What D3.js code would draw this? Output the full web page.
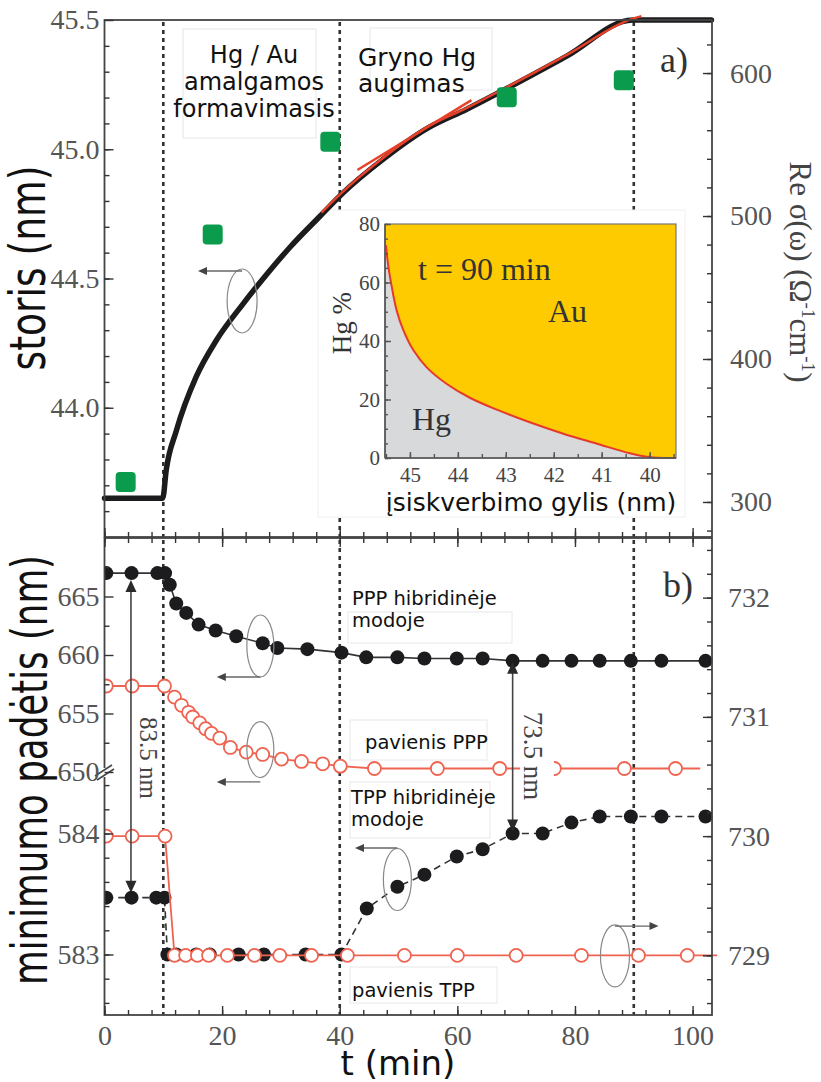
<!DOCTYPE html>
<html>
<head>
<meta charset="utf-8">
<script src="https://cdn.jsdelivr.net/npm/d3@7"></script>
<style>
  body { margin: 0; background: #fff; }
  svg { display: block; }
</style>
</head>
<body>
<svg id="chart" width="821" height="1082"></svg>
<script>
// ---------- a) storis ir laidumas ----------
var storisT = [0, 5, 9.9, 10.5, 12.2, 15.6, 19.0, 23.5, 27.0, 31.5, 36.6, 40.5, 47.3, 54.8, 61.6, 68.4, 78.6, 89.8, 95, 103.2];
var storisV = [43.65, 43.65, 43.65, 43.76, 43.91, 44.12, 44.26, 44.40, 44.50, 44.62, 44.74, 44.83, 44.96, 45.08, 45.155, 45.235, 45.36, 45.50, 45.50, 45.50];
var fitT = [36.9, 40.5, 47.3, 54.8, 61.6, 68.4, 78.6, 89.8, 91.3];
var fitV = [44.755, 44.835, 44.965, 45.085, 45.16, 45.24, 45.365, 45.505, 45.515];
var tangentT = [43.0, 62.4];
var tangentV = [44.92, 45.19];
var sigmaT = [3.6, 18.4, 38.4, 68.4, 88.3];
var sigmaV = [314, 487, 552, 583, 595];
var stageT = [10, 40, 90];

// inset: Hg % pagal gylį
var depthNm = [45.50, 45.45, 45.38, 45.28, 45.14, 44.93, 44.65, 44.23, 43.75, 43.20, 42.50, 41.80, 41.10, 40.41, 40.06, 39.72, 39.45];
var hgPct   = [72.8, 65.4, 58.6, 50.6, 43.8, 36.9, 31.0, 25.3, 20.6, 16.6, 12.2, 8.3, 4.9, 1.6, 0.4, 0, 0];

// ---------- b) minimumo padėtis ----------
var pppHybT = [0.3, 4.6, 9.0, 10.3, 11.1, 12.2, 13.9, 16.0, 18.9, 22.4, 26.9, 29.4, 34.5, 40.3, 44.5, 49.8, 54.4, 59.9, 64.3, 69.4, 74.5, 79.4, 84.2, 89.5, 94.7, 102.2];
var pppHybV = [667.0, 667.0, 667.0, 667.0, 666.0, 664.4, 663.6, 662.6, 662.1, 661.6, 661.0, 660.6, 660.5, 660.2, 659.8, 659.8, 659.7, 659.7, 659.7, 659.5, 659.5, 659.5, 659.5, 659.5, 659.5, 659.5];
var pppT = [0.3, 4.7, 10.2, 11.9, 13.1, 14.3, 15.0, 16.2, 17.2, 18.2, 19.6, 21.4, 24.1, 26.9, 30.1, 33.5, 37.1, 40.1, 45.9, 56.6, 67.2, 76.5, 88.4, 97.1];
var pppV = [657.35, 657.35, 657.35, 656.4, 655.7, 655.1, 654.7, 654.2, 653.7, 653.3, 652.9, 652.1, 651.7, 651.5, 651.1, 650.9, 650.7, 650.5, 650.3, 650.3, 650.3, 650.3, 650.3, 650.3];
var pppLineEnd = 101.3;
var tppHybT = [0.3, 4.6, 8.8, 10.2, 10.7, 12.2, 15.6, 17.9, 22.8, 27.1, 34.2, 40.3, 44.6, 49.8, 54.4, 59.9, 64.3, 69.4, 74.5, 79.4, 84.2, 89.5, 94.7, 102.2];
var tppHybV = [583.47, 583.47, 583.47, 583.47, 583.0, 583.0, 583.0, 583.0, 583.0, 583.0, 583.0, 583.0, 583.38, 583.56, 583.66, 583.81, 583.87, 584.0, 584.0, 584.09, 584.14, 584.14, 584.14, 584.14];
var tppT = [0.3, 4.7, 10.3, 11.9, 13.8, 15.8, 17.7, 20.9, 25.5, 29.8, 35.2, 41.3, 51.0, 60.0, 70.0, 81.1, 90.8, 99.1];
var tppV = [730, 730, 730, 729, 729, 729, 729, 729, 729, 729, 729, 729, 729, 729, 729, 729, 729, 729];
var tppLineEnd = 104.2;

// tick labels
var tTicks = [0, 20, 40, 60, 80, 100];
var storisTicks = [44.0, 44.5, 45.0, 45.5];
var sigmaTicks = [300, 400, 500, 600];
var upperTicks = [650, 655, 660, 665];
var lowerTicks = [583, 584];
var rightBTicks = [729, 730, 731, 732];
var insetXTicks = [45, 44, 43, 42, 41, 40];
var insetYTicks = [0, 20, 40, 60, 80];

var SERIF = "'Liberation Serif', 'Times New Roman', serif";
var SANS = "'DejaVu Sans', Verdana, sans-serif";
var ORANGE = "#ef6351";

var svg = d3.select("#chart");

var x = d3.scaleLinear().domain([0, 103.3]).range([104.5, 712]);
var yA = d3.scaleLinear().domain([43.5, 45.5]).range([537, 20]);
var yA2 = d3.scaleLinear().domain([275.5, 637.1]).range([537, 20]);
var yBu = d3.scaleLinear().domain([650, 670]).range([772, 538]);
var yBl = d3.scaleLinear().domain([582.5, 584.5]).range([1015, 773]);
var yBr = d3.scaleLinear().domain([728.5, 732.5]).range([1015, 538]);
var xi = d3.scaleLinear().domain([45.52, 39.45]).range([385, 676]);
var yi = d3.scaleLinear().domain([0, 80]).range([458, 224]);

function steps(a, b, s) {
  var out = [];
  for (var v = a; v <= b + 1e-9; v += s) out.push(+v.toFixed(3));
  return out;
}

function addAxis(mk, scale, tx, ty, majors, minors, fmt, opt) {
  opt = opt || {};
  var gMin = svg.append("g").attr("transform", "translate(" + tx + "," + ty + ")")
    .call(mk(scale).tickValues(minors).tickSize(-(opt.minor || 5)).tickFormat(""));
  var gMaj = svg.append("g").attr("transform", "translate(" + tx + "," + ty + ")")
    .call(mk(scale).tickValues(majors).tickSize(-(opt.major || 9)).tickPadding(opt.pad || 6)
      .tickFormat(fmt || ""));
  [gMin, gMaj].forEach(function(g) {
    g.select(".domain").remove();
    g.selectAll(".tick line").attr("stroke", opt.tickColor || "#333").attr("stroke-width", 1.4);
  });
  gMaj.selectAll(".tick text")
    .attr("font-family", SERIF)
    .attr("font-size", opt.fs || 28)
    .attr("fill", opt.color || "#555");
  return gMaj;
}

// ================= PANEL a =================
var pa = svg.append("g");

// stage lines
pa.selectAll("line.stage").data(stageT).enter().append("line")
  .attr("x1", d => x(d)).attr("x2", d => x(d))
  .attr("y1", yA(45.5) + 2).attr("y2", yA(43.5))
  .attr("stroke", "#333").attr("stroke-width", 2.6).attr("stroke-dasharray", "4,4");

// annotation boxes
pa.append("rect").attr("x", 183).attr("y", 29).attr("width", 133).attr("height", 109)
  .attr("fill", "#fff").attr("stroke", "#e6e6e6");
pa.append("rect").attr("x", 370).attr("y", 28).attr("width", 122).attr("height", 62)
  .attr("fill", "#fff").attr("stroke", "#e6e6e6");

// inset background
pa.append("rect").attr("x", 318).attr("y", 210).attr("width", 367).attr("height", 307)
  .attr("fill", "#fff").attr("stroke", "#f0f0f0");

// storis curve
var storis = storisT.map((t, i) => [t, storisV[i]]);
pa.append("path").datum(storis)
  .attr("d", d3.line().x(d => x(d[0])).y(d => yA(d[1])).curve(d3.curveMonotoneX))
  .attr("fill", "none").attr("stroke", "#1c1c1f").attr("stroke-width", 5.5)
  .attr("stroke-linecap", "round");

// red fits
var fit = fitT.map((t, i) => [t, fitV[i]]);
pa.append("path").datum(fit)
  .attr("d", d3.line().x(d => x(d[0])).y(d => yA(d[1])).curve(d3.curveMonotoneX))
  .attr("fill", "none").attr("stroke", "#e8412a").attr("stroke-width", 2.4);
var tang = tangentT.map((t, i) => [t, tangentV[i]]);
pa.append("path").datum(tang)
  .attr("d", d3.line().x(d => x(d[0])).y(d => yA(d[1])))
  .attr("fill", "none").attr("stroke", "#e8412a").attr("stroke-width", 2.4);

// green squares (right axis)
pa.selectAll("rect.sig").data(sigmaT.map((t, i) => [t, sigmaV[i]])).enter().append("rect")
  .attr("x", d => x(d[0]) - 10).attr("y", d => yA2(d[1]) - 10)
  .attr("width", 20).attr("height", 20).attr("rx", 4)
  .attr("fill", "#0b9b4c");

// ---- inset ----
var inset = pa.append("g");
inset.append("rect").attr("x", xi(45.52)).attr("y", yi(80))
  .attr("width", xi(39.45) - xi(45.52)).attr("height", yi(0) - yi(80))
  .attr("fill", "#fecb00");
var hg = depthNm.map((d, i) => [d, hgPct[i]]);
inset.append("path").datum(hg)
  .attr("d", d3.area().x(d => xi(d[0])).y0(yi(0)).y1(d => yi(d[1])).curve(d3.curveCatmullRom))
  .attr("fill", "#d8d9da");
inset.append("path").datum(hg)
  .attr("d", d3.line().x(d => xi(d[0])).y(d => yi(d[1])).curve(d3.curveCatmullRom))
  .attr("fill", "none").attr("stroke", "#e5392a").attr("stroke-width", 2);
inset.append("rect").attr("x", xi(45.52)).attr("y", yi(80))
  .attr("width", xi(39.45) - xi(45.52)).attr("height", yi(0) - yi(80))
  .attr("fill", "none").attr("stroke", "#777").attr("stroke-width", 1.2);
inset.append("line").attr("x1", xi(45.52)).attr("x2", xi(45.52)).attr("y1", yi(80)).attr("y2", yi(0))
  .attr("stroke", "#555").attr("stroke-width", 1.6);
inset.append("line").attr("x1", xi(45.52)).attr("x2", xi(39.45)).attr("y1", yi(0)).attr("y2", yi(0))
  .attr("stroke", "#555").attr("stroke-width", 1.6);

addAxis(d3.axisBottom, xi, 0, yi(0), insetXTicks, steps(39.5, 45.5, 0.5), d3.format("d"),
  {major: 6, minor: 4, pad: 9, fs: 21, color: "#444", tickColor: "#555"});
addAxis(d3.axisLeft, yi, xi(45.52), 0, insetYTicks, steps(0, 80, 5), d3.format("d"),
  {major: 6, minor: 3, pad: 5, fs: 21, color: "#444", tickColor: "#555"});

inset.append("text").attr("x", 418).attr("y", 280).text("t = 90 min")
  .attr("font-family", SERIF).attr("font-size", 32).attr("fill", "#333");
inset.append("text").attr("x", 548).attr("y", 322).text("Au")
  .attr("font-family", SERIF).attr("font-size", 32).attr("fill", "#333");
inset.append("text").attr("x", 412).attr("y", 430).text("Hg")
  .attr("font-family", SERIF).attr("font-size", 32).attr("fill", "#333");
inset.append("text").attr("transform", "translate(351,323) rotate(-90)")
  .attr("text-anchor", "middle").text("Hg %")
  .attr("font-family", SERIF).attr("font-size", 27).attr("fill", "#333");
inset.append("text").attr("x", 531).attr("y", 511).attr("text-anchor", "middle")
  .text("įsiskverbimo gylis (nm)")
  .attr("font-family", SANS).attr("font-size", 25).attr("fill", "#111");

// loop + arrow annotation
function loop(g, cx, cy, rx, ry, ay, tipX) {
  g.append("ellipse").attr("cx", cx).attr("cy", cy).attr("rx", rx).attr("ry", ry)
    .attr("fill", "none").attr("stroke", "#888").attr("stroke-width", 1.2);
  var dir = tipX < cx ? 1 : -1;
  g.append("line").attr("x1", cx).attr("x2", tipX + dir * 7).attr("y1", ay).attr("y2", ay)
    .attr("stroke", "#666").attr("stroke-width", 1.3);
  g.append("path")
    .attr("d", "M" + tipX + "," + ay + "L" + (tipX + dir * 9) + "," + (ay - 4) +
      "L" + (tipX + dir * 9) + "," + (ay + 4) + "Z")
    .attr("fill", "#444");
}
loop(pa, x(23.4), yA(44.413), 15, 32, yA(44.529), x(15.9));

// frame a
pa.append("rect").attr("x", 104.5).attr("y", 20).attr("width", 607.5).attr("height", 517)
  .attr("fill", "none").attr("stroke", "#444").attr("stroke-width", 1.8);

addAxis(d3.axisLeft, yA, 104.5, 0, storisTicks, steps(43.6, 45.4, 0.1), d3.format(".1f"), {pad: 5});
addAxis(d3.axisRight, yA2, 712, 0, sigmaTicks, steps(280, 620, 20), d3.format("d"), {pad: 18});
addAxis(d3.axisBottom, x, 0, 537, tTicks, steps(0, 100, 4), null, {});

// texts a
var tA = pa.append("g").attr("font-family", SANS).attr("fill", "#111");
tA.append("text").attr("x", 254).attr("y", 63).attr("text-anchor", "middle").attr("font-size", 24).text("Hg / Au");
tA.append("text").attr("x", 254).attr("y", 90).attr("text-anchor", "middle").attr("font-size", 24).text("amalgamos");
tA.append("text").attr("x", 254).attr("y", 117).attr("text-anchor", "middle").attr("font-size", 24).text("formavimasis");
tA.append("text").attr("x", 358).attr("y", 66).attr("font-size", 25).text("Gryno Hg");
tA.append("text").attr("x", 358).attr("y", 92).attr("font-size", 25).text("augimas");
pa.append("text").attr("x", 660).attr("y", 72).text("a)")
  .attr("font-family", SERIF).attr("font-size", 36).attr("fill", "#333");

// ================= PANEL b =================
var pb = svg.append("g");
svg.append("clipPath").attr("id", "clipB").append("rect")
  .attr("x", 104.5).attr("y", 538).attr("width", 616).attr("height", 477);

pb.selectAll("line.stage").data(stageT).enter().append("line")
  .attr("x1", d => x(d)).attr("x2", d => x(d))
  .attr("y1", 540).attr("y2", 1015)
  .attr("stroke", "#333").attr("stroke-width", 2.6).attr("stroke-dasharray", "4,4");

// label boxes
[[348, 612, 164, 31], [350, 720, 137, 40], [350, 782, 140, 56], [350, 967, 147, 36]].forEach(function(b) {
  pb.append("rect").attr("x", b[0]).attr("y", b[1]).attr("width", b[2]).attr("height", b[3])
    .attr("fill", "#fff").attr("stroke", "#e8e8e8");
});

var series = pb.append("g").attr("clip-path", "url(#clipB)");

function plotSeries(ts, vs, ys, opts) {
  var pts = ts.map((t, i) => [t, vs[i]]);
  var linePts = opts.lineEnd ? pts.concat([[opts.lineEnd, vs[vs.length - 1]]]) : pts;
  series.append("path").datum(linePts)
    .attr("d", d3.line().x(d => x(d[0])).y(d => ys(d[1])))
    .attr("fill", "none").attr("stroke", opts.lineColor).attr("stroke-width", opts.lw || 1.6)
    .attr("stroke-dasharray", opts.dash || null);
  series.selectAll(null).data(pts).enter().append("circle")
    .attr("cx", d => x(d[0])).attr("cy", d => ys(d[1]))
    .attr("r", opts.r)
    .attr("fill", opts.fill).attr("stroke", opts.stroke).attr("stroke-width", opts.sw || 0);
}

plotSeries(tppHybT, tppHybV, yBl, {lineColor: "#333", dash: "7,5", r: 7, fill: "#1c1c1f", stroke: "none"});
plotSeries(pppHybT, pppHybV, yBu, {lineColor: "#333", r: 7, fill: "#1c1c1f", stroke: "none"});
plotSeries(tppT, tppV, yBr, {lineColor: ORANGE, lw: 1.8, r: 6.5, fill: "#fff", stroke: ORANGE, sw: 1.8, lineEnd: tppLineEnd});
plotSeries(pppT, pppV, yBu, {lineColor: ORANGE, lw: 1.8, r: 6.5, fill: "#fff", stroke: ORANGE, sw: 1.8, lineEnd: pppLineEnd});

// double arrows
function dblArrow(px, y1, y2) {
  pb.append("line").attr("x1", px).attr("x2", px).attr("y1", y1 + 8).attr("y2", y2 - 8)
    .attr("stroke", "#444").attr("stroke-width", 1.6);
  pb.append("path").attr("d", "M" + px + "," + y1 + "L" + (px - 5.5) + "," + (y1 + 12) + "L" + (px + 5.5) + "," + (y1 + 12) + "Z")
    .attr("fill", "#2a2a2a");
  pb.append("path").attr("d", "M" + px + "," + y2 + "L" + (px - 5.5) + "," + (y2 - 12) + "L" + (px + 5.5) + "," + (y2 - 12) + "Z")
    .attr("fill", "#2a2a2a");
}
dblArrow(x(4.5), yBu(667) + 7, yBl(583.47) - 5);
dblArrow(x(69.4), yBu(659.5) + 1, yBl(584.0) - 2);

pb.append("text").attr("transform", "translate(140,758) rotate(90)").attr("text-anchor", "middle")
  .text("83.5 nm").attr("font-family", SERIF).attr("font-size", 25).attr("fill", "#444");
pb.append("rect").attr("x", 520).attr("y", 706).attr("width", 34).attr("height", 98).attr("fill", "#fff");
pb.append("text").attr("transform", "translate(524,756) rotate(90)").attr("text-anchor", "middle")
  .text("73.5 nm").attr("font-family", SERIF).attr("font-size", 27).attr("fill", "#444");

loop(pb, x(26.5), yBu(660.77), 13.5, 31, yBu(658.12), x(19.1));
loop(pb, x(26.5), yBu(651.92), 13.5, 28, yBu(649.15), x(19.1));
loop(pb, x(49.8), yBl(583.62), 14, 31, yBl(583.88), x(42.6));
loop(pb, x(86.8), yBr(728.995), 14.5, 31, yBr(729.246), x(94.2));

// frame b
pb.append("rect").attr("x", 104.5).attr("y", 538).attr("width", 607.5).attr("height", 477)
  .attr("fill", "none").attr("stroke", "#444").attr("stroke-width", 1.8);

addAxis(d3.axisLeft, yBu, 104.5, 0, upperTicks, [652.5, 657.5, 662.5, 667.5], d3.format("d"), {pad: 5});
addAxis(d3.axisLeft, yBl, 104.5, 0, lowerTicks, steps(582.6, 584.4, 0.2), d3.format("d"), {pad: 5});
addAxis(d3.axisRight, yBr, 712, 0, rightBTicks, steps(728.6, 732.4, 0.2), d3.format("d"), {pad: 16});
addAxis(d3.axisTop, x, 0, 538, tTicks, steps(0, 100, 4), null, {});
addAxis(d3.axisBottom, x, 0, 1015, tTicks, steps(0, 100, 4), d3.format("d"), {pad: 10});

// axis break
pb.append("rect").attr("x", 100).attr("y", 768).attr("width", 10).attr("height", 9).attr("fill", "#fff");
pb.append("line").attr("x1", 95).attr("y1", 776).attr("x2", 112).attr("y2", 765).attr("stroke", "#444").attr("stroke-width", 1.5);
pb.append("line").attr("x1", 97).attr("y1", 780).attr("x2", 114).attr("y2", 769).attr("stroke", "#444").attr("stroke-width", 1.5);

// texts b
var tB = pb.append("g").attr("font-family", SANS).attr("font-size", 19.5).attr("fill", "#111");
tB.append("text").attr("x", 352).attr("y", 605).text("PPP hibridinėje");
tB.append("text").attr("x", 352).attr("y", 627).text("modoje");
tB.append("text").attr("x", 365).attr("y", 749).text("pavienis PPP");
tB.append("text").attr("x", 351).attr("y", 804).text("TPP hibridinėje");
tB.append("text").attr("x", 351).attr("y", 826).text("modoje");
tB.append("text").attr("x", 352).attr("y", 997).text("pavienis TPP");
pb.append("text").attr("x", 663).attr("y", 597).text("b)")
  .attr("font-family", SERIF).attr("font-size", 36).attr("fill", "#333");

// ================= axis titles =================
svg.append("text").attr("transform", "translate(45,268) rotate(-90)")
  .attr("text-anchor", "middle").attr("font-family", SANS).attr("font-size", 50)
  .attr("textLength", 205).attr("lengthAdjust", "spacingAndGlyphs")
  .attr("fill", "#111").text("storis (nm)");
svg.append("text").attr("transform", "translate(47,770) rotate(-90)")
  .attr("text-anchor", "middle").attr("font-family", SANS).attr("font-size", 50)
  .attr("textLength", 430).attr("lengthAdjust", "spacingAndGlyphs")
  .attr("fill", "#111").text("minimumo padėtis (nm)");
svg.append("text").attr("x", 398).attr("y", 1075).attr("text-anchor", "middle")
  .attr("font-family", SANS).attr("font-size", 34).attr("fill", "#111").text("t (min)");

var rl = svg.append("text").attr("transform", "translate(790,272) rotate(90)")
  .attr("text-anchor", "middle").attr("font-family", SERIF).attr("font-size", 31).attr("fill", "#444");
rl.append("tspan").text("Re σ(ω) (Ω");
rl.append("tspan").attr("font-size", 19).attr("dy", -12).text("-1");
rl.append("tspan").attr("dy", 12).text("cm");
rl.append("tspan").attr("font-size", 19).attr("dy", -12).text("-1");
rl.append("tspan").attr("dy", 12).text(")");
</script>
</body>
</html>
